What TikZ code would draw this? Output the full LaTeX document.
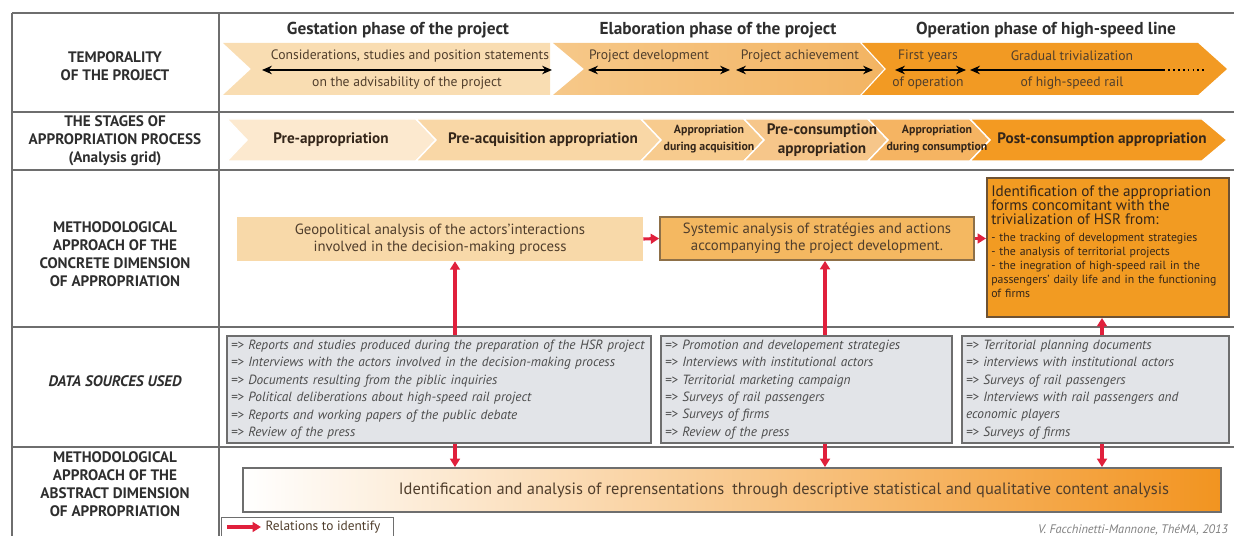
\documentclass[tikz,border=0pt]{standalone}
\usepackage{fontspec}
\setmainfont{PT Sans}
\usepackage{xcolor}
\usetikzlibrary{arrows.meta,positioning}

\definecolor{framegray}{HTML}{6E6E6E}
\definecolor{labgray}{HTML}{2E2E2E}
\definecolor{txtbrown}{HTML}{503E2C}
\definecolor{stgtxt}{HTML}{34261A}
\definecolor{relred}{HTML}{E0203C}
\definecolor{phaseA}{HTML}{F9DDB2}
\definecolor{phaseBl}{HTML}{F6C889}
\definecolor{phaseBr}{HTML}{F3B462}
\definecolor{phaseC}{HTML}{F29A23}
\definecolor{stageA}{HTML}{FCE9CF}
\definecolor{stageB}{HTML}{F9D7A6}
\definecolor{stageC}{HTML}{F7CB8E}
\definecolor{stageD}{HTML}{F6C68A}
\definecolor{stageE}{HTML}{F5B462}
\definecolor{stageF}{HTML}{F39A22}
\definecolor{geofill}{HTML}{F8D9A9}
\definecolor{sysfill}{HTML}{F4B861}
\definecolor{sysdraw}{HTML}{8E7048}
\definecolor{idfill}{HTML}{F29B22}
\definecolor{iddraw}{HTML}{6E5233}
\definecolor{srcfill}{HTML}{E2E4E8}
\definecolor{srcdraw}{HTML}{6E6E6E}
\definecolor{srctxt}{HTML}{4C4C4C}
\definecolor{absmid}{HTML}{F5B060}
\definecolor{absright}{HTML}{F29420}

\newcommand{\pxu}{0.025cm}

\begin{document}
\begin{tikzpicture}[
x=0.025cm,y=-0.025cm,
lab/.style={font=\fontsize{10.8}{12.8}\selectfont\bfseries,align=center,text=labgray},
hdr/.style={font=\fontsize{12.3}{14}\selectfont\bfseries,text=labgray},
tim/.style={font=\fontsize{9.7}{11}\selectfont,text=txtbrown},
stg/.style={font=\fontsize{10.8}{14}\selectfont\bfseries,align=center,text=stgtxt},
stgsmall/.style={font=\fontsize{8.4}{12.5}\selectfont\bfseries,align=center,text=stgtxt},
dbl/.style={{Stealth[length=7pt,width=6pt]}-{Stealth[length=7pt,width=6pt]},line width=1.5pt},
rel/.style={-{Triangle[length=6pt,width=7pt]},line width=2.2pt,relred},
rowline/.style={line width=1.5pt,framegray},
box/.style={inner sep=0pt,font=\fontsize{10.5}{12}\selectfont,text=txtbrown,align=center},
srcbox/.style={draw=srcdraw,line width=1.3pt,fill=srcfill,inner sep=4*\pxu,minimum height=105*\pxu,
  font=\fontsize{9.5}{12.4}\selectfont\itshape,text=srctxt,align=left}
]
\useasboundingbox (0,0) rectangle (1234,536);

% phases of the project
\fill[phaseA] (223,43) -- (550,43) -- (550,95) -- (223,95) -- (251,69) -- cycle;
\shade[left color=phaseBl,right color=phaseBr] (553,43) -- (860,43) -- (884,69) -- (860,95) -- (553,95) -- (584,69) -- cycle;
\fill[phaseC] (862,43) -- (1198,43) -- (1227,69) -- (1198,95) -- (862,95) -- (886,69) -- cycle;

% stages of appropriation
\filldraw[stageA,draw=white,line width=1pt] (227,119) -- (416,119) -- (436,140) -- (416,161) -- (227,161) -- (247,140) -- cycle;
\filldraw[stageB,draw=white,line width=1pt] (416,119) -- (641,119) -- (661,140) -- (641,161) -- (416,161) -- (436,140) -- cycle;
\filldraw[stageC,draw=white,line width=1pt] (641,119) -- (744,119) -- (764,140) -- (744,161) -- (641,161) -- (661,140) -- cycle;
\filldraw[stageD,draw=white,line width=1pt] (744,119) -- (868,119) -- (888,140) -- (868,161) -- (744,161) -- (764,140) -- cycle;
\filldraw[stageE,draw=white,line width=1pt] (868,119) -- (970,119) -- (990,140) -- (970,161) -- (868,161) -- (888,140) -- cycle;
\filldraw[stageF,draw=white,line width=1pt] (970,119) -- (1202,119) -- (1227,140) -- (1202,161) -- (970,161) -- (990,140) -- cycle;

% grid
\draw[rowline] (12,13) -- (1234,13);
\draw[rowline] (12,112) -- (1234,112);
\draw[rowline] (12,170) -- (1234,170);
\draw[rowline] (12,327) -- (1234,327);
\draw[rowline] (12,447) -- (1234,447);
\draw[rowline] (12,13) -- (12,536);
\draw[rowline] (219,13) -- (219,536);

\node[lab] (temporality) at (115,66) {TEMPORALITY\\OF THE PROJECT};
\node[lab] (stages) at (115,141) {THE STAGES OF\\APPROPRIATION PROCESS\\(Analysis grid)};
\node[lab] (concrete) at (115,254) {METHODOLOGICAL\\APPROACH OF THE\\CONCRETE DIMENSION\\OF APPROPRIATION};
\node[lab,font=\fontsize{10.8}{12.8}\selectfont\bfseries\itshape] (sources) at (115,381) {DATA SOURCES USED};
\node[lab] (abstract) at (115,484) {METHODOLOGICAL\\APPROACH OF THE\\ABSTRACT DIMENSION\\OF APPROPRIATION};

\node[hdr] (gestation) at (398,30) {Gestation phase of the project};
\node[hdr] (elaboration) at (718,30) {Elaboration phase of the project};
\node[hdr] (operation) at (1046,30) {Operation phase of high-speed line};

\node[tim] (consider) at (410,56) {Considerations, studies and position statements};
\node[tim] (advis) at (407,83) {on the advisability of the project};
\node[tim] (develop) at (649,56) {Project development};
\node[tim] (achieve) at (800,56) {Project achievement};
\node[tim] (firstyears) at (928,56) {First years};
\node[tim] (ofoperation) at (928,83) {of operation};
\node[tim] (gradual) at (1072,56) {Gradual trivialization};
\node[tim] (ofhsr) at (1072,83) {of high-speed rail};

\coordinate (g1) at (262,70); \coordinate (g2) at (552,70);
\coordinate (d1) at (588,70); \coordinate (d2) at (730,70);
\coordinate (a1) at (736,70); \coordinate (a2) at (873,70);
\coordinate (f1) at (895,70); \coordinate (f2) at (966,70);
\coordinate (t1) at (970,70); \coordinate (t2) at (1163,70); \coordinate (t3) at (1207,70);
\draw[dbl] (g1) -- (g2);
\draw[dbl] (d1) -- (d2);
\draw[dbl] (a1) -- (a2);
\draw[dbl] (f1) -- (f2);
\draw[{Stealth[length=7pt,width=6pt]}-,line width=1.5pt] (t1) -- (t2);
\draw[line width=1.5pt,dash pattern=on 1.3pt off 2.2pt] (t2) -- (t3);

\node[stg] (preapp) at (331,140) {Pre-appropriation};
\node[stg] (preacq) at (543,140) {Pre-acquisition appropriation};
\node[stgsmall] (duracq) at (709,139) {Appropriation\\during acquisition};
\node[stg] (precons) at (822,140) {Pre-consumption\\appropriation};
\node[stgsmall] (durcons) at (937,139) {Appropriation\\during consumption};
\node[stg] (postcons) at (1102,140) {Post-consumption appropriation};

% concrete dimension
\node[box,fill=geofill,minimum width=406*\pxu,minimum height=44*\pxu] (geo) at (440,239)
  {Geopolitical analysis of the actors'interactions\\involved in the decision-making process};
\node[box,fill=sysfill,draw=sysdraw,line width=1.2pt,minimum width=314*\pxu,minimum height=43*\pxu] (sys) at (817,238.5)
  {Systemic analysis of stratégies and actions\\accompanying the project development.};
\node[box,fill=idfill,draw=iddraw,line width=1.4pt,minimum width=242*\pxu,minimum height=139*\pxu] (ident) at (1108,247.5) {};
\node[box,anchor=north west,text width=234*\pxu,align=left,text=stgtxt,font=\fontsize{8.4}{10}\selectfont] (identtxt) at (991,185)
  {{\fontsize{10.8}{10.5}\selectfont Identification of the appropriation\\forms concomitant with the\\trivialization of HSR from:}\\[2pt]
  - the tracking of development strategies\\- the analysis of territorial projects\\- the inegration of high-speed rail in the\\passengers' daily life and in the functioning\\of firms};

% data sources
\node[srcbox,minimum width=424*\pxu,text width=416*\pxu] (src1) at (439,389.5)
  {=> Reports and studies produced during the preparation of the HSR project\\
   => Interviews with the actors involved in the decision-making process\\
   => Documents resulting from the piblic inquiries\\
   => Political deliberations about high-speed rail project\\
   => Reports and working papers of the public debate\\
   => Review of the press};
\node[srcbox,minimum width=291*\pxu,text width=283*\pxu] (src2) at (806.5,389.5)
  {=> Promotion and developement strategies\\
   => Interviews with institutional actors\\
   => Territorial marketing campaign\\
   => Surveys of rail passengers\\
   => Surveys of firms\\
   => Review of the press};
\node[srcbox,minimum width=267*\pxu,text width=259*\pxu] (src3) at (1095.5,389.5)
  {=> Territorial planning documents\\
   => interviews with institutional actors\\
   => Surveys of rail passengers\\
   => Interviews with rail passengers and\\
   economic players\\
   => Surveys of firms};

% abstract dimension
\node[box,draw=framegray,line width=1.3pt,left color=white,middle color=absmid,right color=absright,
  minimum width=978*\pxu,minimum height=44*\pxu] (abs) at (732,490) {};
\node[box,font=\fontsize{11.7}{13}\selectfont] (abstxt) at (784,490)
  {Identification and analysis of reprensentations\enspace through descriptive statistical and qualitative content analysis};

% relations
\coordinate (c1) at (455,0); \coordinate (c2) at (825,0); \coordinate (c3) at (1102,0);
\draw[rel] (src1.north -| c1) -- (geo.south -| c1);
\draw[rel] (src2.north -| c2) -- (sys.south -| c2);
\draw[rel] (src3.north -| c3) -- (ident.south -| c3);
\draw[rel] (src1.south -| c1) -- (abs.north -| c1);
\draw[rel] (src2.south -| c2) -- (abs.north -| c2);
\draw[rel] (src3.south -| c3) -- (abs.north -| c3);
\draw[rel] (geo.east) -- (sys.west);
\draw[rel] (sys.east) -- (sys.east -| ident.west);

% legend
\node[draw=framegray,line width=0.8pt,minimum width=172*\pxu,minimum height=26*\pxu,anchor=north west,inner sep=0pt] (legend) at (221,517) {};
\coordinate (l1) at (227,527); \coordinate (l2) at (261,527);
\draw[rel] (l1) -- (l2);
\node[font=\fontsize{9.5}{10}\selectfont,text=txtbrown,inner sep=1pt,right=2pt of l2] (legtxt) {Relations to identify};

\node[font=\fontsize{8.8}{10}\selectfont\itshape,text=gray,anchor=east] (credit) at (1233,530) {V. Facchinetti-Mannone, ThéMA, 2013};
\end{tikzpicture}
\end{document}
